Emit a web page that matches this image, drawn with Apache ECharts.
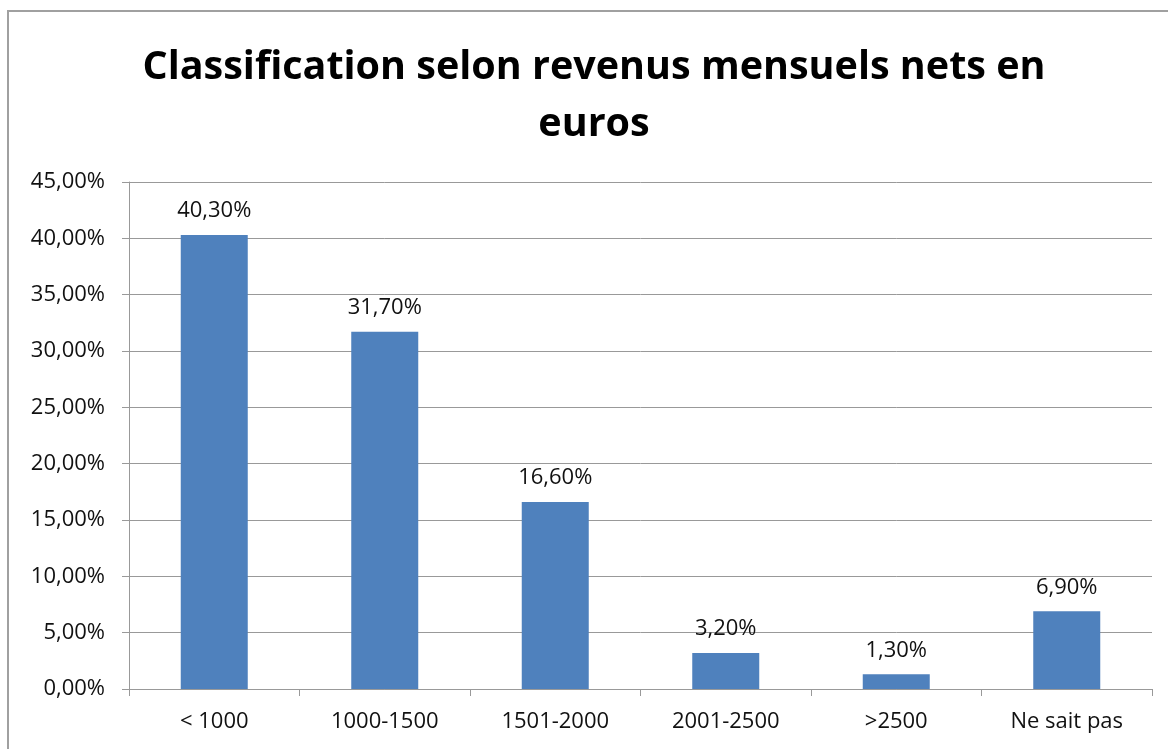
<!DOCTYPE html>
<html><head><meta charset="utf-8">
<script src="https://cdn.jsdelivr.net/npm/echarts@6/dist/echarts.min.js"></script>
<style>html,body{margin:0;padding:0;background:#fff}#c{width:1168px;height:749px}</style>
</head><body><div id="c"></div>
<script>
const titleText = "Classification selon revenus mensuels nets en\neuros";
const categories = ["< 1000", "1000-1500", "1501-2000", "2001-2500", ">2500", "Ne sait pas"];
const values = [40.3, 31.7, 16.6, 3.2, 1.3, 6.9];
const yTicks = { min: 0, max: 45, interval: 5 };
const fmt = v => v.toFixed(2).replace('.', ',') + '%';
const font = "'Open Sans', sans-serif";
const chart = echarts.init(document.getElementById('c'));
chart.setOption({
  animation: false,
  backgroundColor: '#fff',
  graphic: [{ type: 'rect', shape: { x: 8, y: 11, width: 1300, height: 900 }, style: { fill: 'none', stroke: '#A0A0A0', lineWidth: 2 }, z: -1 }],
  title: { text: titleText, left: 589, textAlign: 'center', top: 34, textStyle: { fontFamily: font, fontWeight: 'bold', fontSize: 39.5, lineHeight: 57, color: '#000' } },
  grid: { left: 129, right: 16, top: 182, bottom: 60, containLabel: false },
  xAxis: {
    type: 'category', data: categories,
    axisLine: { lineStyle: { color: '#999', width: 1 } },
    axisTick: { show: true, length: 7, alignWithLabel: false, lineStyle: { color: '#999' } },
    axisLabel: { fontFamily: font, fontSize: 22, color: '#111', margin: 22 }
  },
  yAxis: {
    type: 'value', min: yTicks.min, max: yTicks.max, interval: yTicks.interval,
    axisLine: { show: true, lineStyle: { color: '#999', width: 1 } },
    axisTick: { show: true, length: 7, lineStyle: { color: '#999' } },
    splitLine: { lineStyle: { color: '#999', width: 1 } },
    axisLabel: { fontFamily: font, fontSize: 22, color: '#111', margin: 24, formatter: v => fmt(v) }
  },
  series: [{
    type: 'bar', data: values, barWidth: 67,
    itemStyle: { color: '#4F81BD' },
    label: { show: true, position: 'top', distance: 13, fontFamily: font, fontSize: 22, color: '#111', formatter: p => fmt(p.value) }
  }]
});
</script></body></html>
